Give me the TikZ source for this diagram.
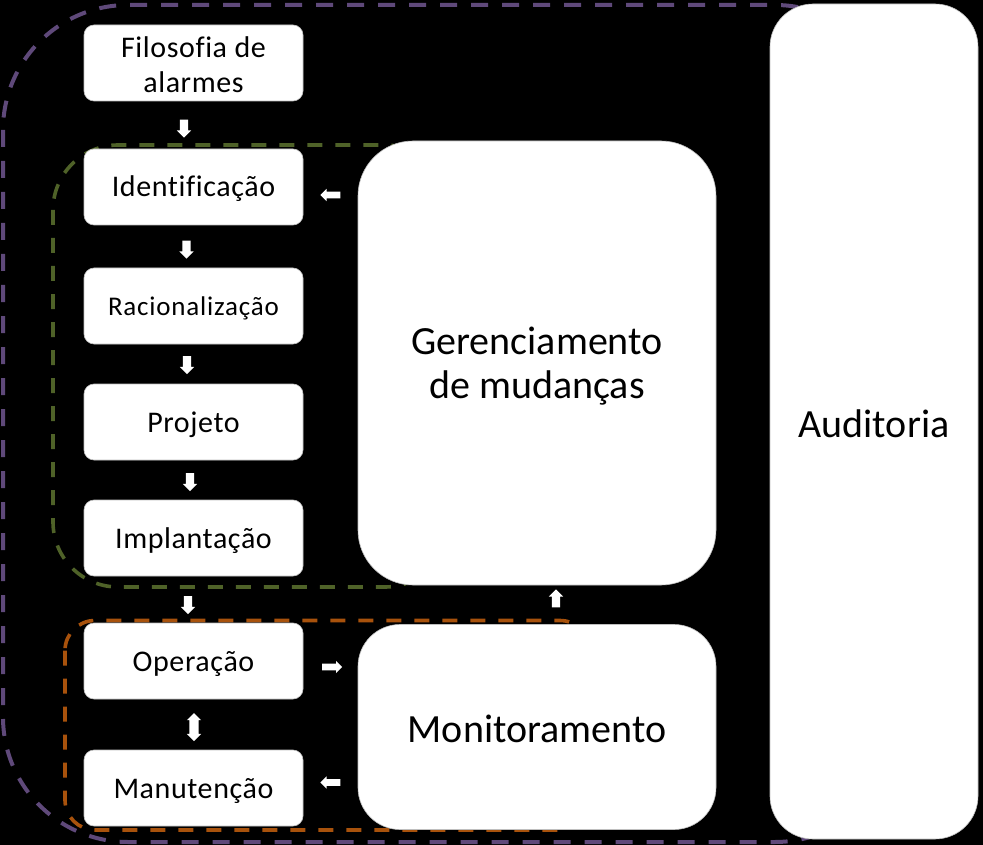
\documentclass[tikz,border=0pt]{standalone}
\usepackage{fontspec}
\setmainfont{Carlito}[Ligatures=NoCommon]
\usetikzlibrary{shapes.arrows}
\definecolor{purp}{HTML}{5F497A}
\definecolor{olivegr}{HTML}{4F6228}
\definecolor{orng}{HTML}{A8520C}
\begin{document}
\begin{tikzpicture}[x=1pt,y=-1pt,
  smallfont/.style={font=\fontsize{30}{35}\selectfont\addfontfeature{LetterSpace=2}},
  smallbox/.style={fill=white, draw=gray!50, line width=0.6pt, rounded corners=10pt,
    minimum width=219pt, minimum height=76pt, inner sep=0pt, smallfont},
  oneline/.style={text height=24pt, text depth=4pt},
  bigfont/.style={font=\fontsize{40}{44}\selectfont},
  bigbox/.style={fill=white, draw=gray!50, line width=0.6pt, inner sep=0pt, bigfont},
  loop/.style={line width=3.6pt, dash pattern=on 15pt off 13pt},
  blk/.style={single arrow, fill=white, draw=none, inner xsep=0pt, inner ysep=4pt,
    single arrow head extend=3pt, minimum height=18pt, outer sep=0pt},
  blkh/.style={single arrow, fill=white, draw=none, inner xsep=0pt, inner ysep=3.2pt,
    single arrow head extend=2.8pt, minimum height=20pt, outer sep=0pt},
  dblk/.style={double arrow, fill=white, draw=none, inner xsep=0pt, inner ysep=4.5pt,
    double arrow head extend=2.5pt, minimum height=28pt, outer sep=0pt}
]
\fill[black] (0,0) rectangle (983,845);
\useasboundingbox (0,0) rectangle (983,845);

% dashed loops
\draw[purp, line width=4pt, dash pattern=on 17pt off 14pt, rounded corners=125pt] (3,5) rectangle (900,842);
\draw[olivegr, loop, rounded corners=65pt] (53,145) rectangle (450,587);
\draw[orng, loop, rounded corners=30pt] (65,620.5) rectangle (590,830);

% boxes
\node[smallbox, label={[smallfont, align=center, inner sep=0pt, yshift=-1.8pt]center:{Filosofia de\\alarmes}}] (fil) at (193.5,63) {};
\node[smallbox, oneline] (ide) at (193.5,187) {Identificação};
\node[smallbox, oneline, font=\fontsize{27}{32}\selectfont\addfontfeature{LetterSpace=3}] (rac) at (193.5,306) {Racionalização};
\node[smallbox, oneline] (pro) at (193.5,422) {Projeto};
\node[smallbox, oneline] (imp) at (193.5,538) {Implantação};
\node[smallbox, oneline] (ope) at (193.5,661) {Operação};
\node[smallbox, oneline] (man) at (193.5,788) {Manutenção};
\node[bigbox, rounded corners=55pt, minimum width=358pt, minimum height=444pt,
  label={[bigfont, align=center, inner sep=0pt, yshift=-3pt]center:{Gerenciamento\\de mudanças}}] (ger) at (537,363) {};
\node[bigbox, rounded corners=42pt, minimum width=358pt, minimum height=205pt, text height=30pt, text depth=0pt] (mon) at (537,727) {Monitoramento};
\node[bigbox, rounded corners=43pt, minimum width=208pt, minimum height=835pt, text height=32.6pt, text depth=0pt] (aud) at (874,421.5) {Auditoria};

% block arrows
\node[blk, rotate=-90] (a1) at (184,126.5) {};
\node[blkh, rotate=180] (a2) at (332,195) {};
\node[blk, rotate=-90] (a3) at (186.5,247.5) {};
\node[blk, rotate=-90] (a4) at (187,363) {};
\node[blk, rotate=-90] (a5) at (190,480) {};
\node[blk, rotate=-90] (a6) at (188,603) {};
\node[blk, rotate=90] (a7) at (556,600.5) {};
\node[blkh] (a8) at (330.5,667) {};
\node[dblk, rotate=90] (a9) at (194,727) {};
\node[blkh, rotate=180] (a10) at (332,782.5) {};
\end{tikzpicture}
\end{document}
